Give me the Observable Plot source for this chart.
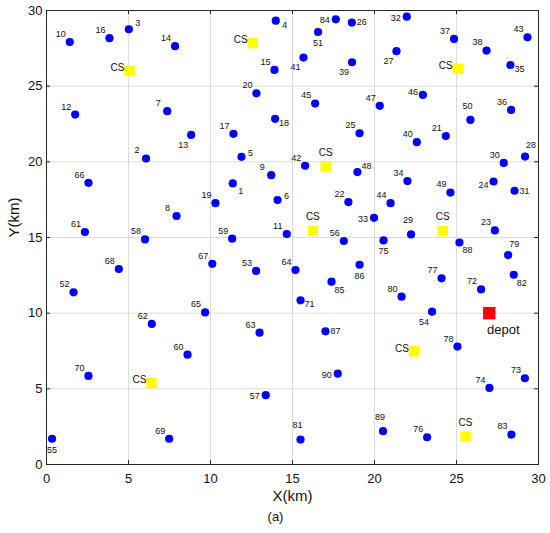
<!DOCTYPE html>
<html>
<head>
<meta charset="utf-8">
<script src="https://cdn.jsdelivr.net/npm/d3@7"></script>
<script src="https://cdn.jsdelivr.net/npm/@observablehq/plot@0.6"></script>
<style>
  html, body { margin: 0; padding: 0; background: #fff; }
  #chart svg { display: block; }
</style>
</head>
<body>
<div id="chart"></div>
<script>
// Customer points, ids 1..90 (km)
const custX = [11.36, 6.07, 5.02, 13.98, 11.89, 14.09, 7.36, 7.93, 13.70, 1.42,
  14.65, 1.75, 8.82, 7.84, 13.90, 3.84, 11.40, 13.94, 10.30, 12.80,
  24.35, 18.41, 27.34, 27.26, 19.09, 18.62, 21.34, 29.18, 22.23, 27.88,
  28.54, 21.97, 19.97, 22.01, 28.29, 28.33, 24.85, 26.83, 18.63, 22.58,
  15.67, 15.77, 29.33, 20.98, 16.38, 22.95, 20.32, 18.96, 24.63, 25.85,
  16.56, 1.65, 12.78, 23.51, 0.34, 18.13, 13.37, 6.01, 11.32, 8.60,
  2.34, 6.42, 12.99, 15.18, 9.67, 2.56, 10.11, 4.41, 7.48, 2.56,
  15.49, 26.50, 29.17, 27.01, 20.55, 23.21, 24.09, 25.06, 28.15, 21.65,
  15.49, 28.49, 28.35, 17.64, 17.38, 19.09, 17.01, 25.18, 20.52, 17.76];
const custY = [18.57, 20.22, 28.76, 29.33, 20.33, 17.47, 23.35, 16.42, 19.12, 27.92,
  15.23, 23.12, 21.78, 27.64, 26.07, 28.17, 21.85, 22.84, 17.27, 24.53,
  21.70, 17.34, 15.47, 18.70, 21.89, 29.20, 27.31, 20.35, 15.20, 19.93,
  18.09, 29.59, 16.30, 18.73, 26.40, 23.43, 28.12, 27.35, 26.58, 21.30,
  26.89, 19.74, 28.23, 17.27, 23.85, 24.42, 23.70, 19.32, 17.97, 22.77,
  28.58, 11.38, 12.79, 10.10, 1.70, 14.77, 4.58, 14.87, 14.92, 7.26,
  15.36, 9.29, 8.71, 12.85, 10.05, 18.61, 13.26, 12.92, 1.70, 5.85,
  10.85, 11.57, 5.70, 5.06, 14.81, 1.80, 12.30, 7.79, 13.84, 11.09,
  1.65, 12.54, 1.98, 29.42, 12.08, 13.20, 8.80, 14.67, 2.20, 6.00];
// label placement around each customer point
const custLabelPos = ["lr","ul","ur","rd","ru","ru","ul","ul","ul","ul",
  "ul","ul","ll","ul","ul","ul","ul","rd","ul","ul",
  "ul","ul","ul","ld","ul","r","ll","ar","a","ul",
  "r","l","l","ul","rd","ul","ul","ul","ll","ul",
  "ll","ul","ul","ul","ul","lu","ul","ur","ul","a",
  "b","ul","ul","ll","b","ul","l","ul","ul","ul",
  "ul","ul","ul","ul","ul","ul","ul","ul","ul","ul",
  "rd","ul","ul","ul","b","ul","ul","ul","ar","ul",
  "a","lr","ul","l","lr","b","r","lr","a","l"];

// Charging stations
const csX = [5.06, 12.58, 25.08, 17.03, 16.24, 24.16, 6.40, 22.41, 25.55];
const csY = [26.00, 27.85, 26.16, 19.69, 15.45, 15.42, 5.39, 7.48, 1.85];
const csLabelPos = ["cl","cl","cl","ca","ca","ca","cl","cl","ca"];

// Depot
const depotX = [27.0];
const depotY = [10.0];

const xTicks = [0, 5, 10, 15, 20, 25, 30];
const yTicks = [0, 5, 10, 15, 20, 25, 30];

const customers = custX.map((x, i) => ({id: String(i + 1), x, y: custY[i], pos: custLabelPos[i]}));
const stations = csX.map((x, i) => ({x, y: csY[i], pos: csLabelPos[i]}));
const depots = depotX.map((x, i) => ({x, y: depotY[i]}));

const offsets = {
  ul: [-9, -8], ur: [9, -6], l: [-11, 1], r: [10, 0], rd: [9, 4], ru: [9, -4],
  ll: [-8, 10], lr: [8, 8], ld: [-10, 4], lu: [-10, -3], b: [0, 11], a: [-3, -14], ar: [6, -11]
};
const csOffsets = {cl: [-12, -3], ca: [0, -14]};

const W = 550, H = 533, mL = 46, mR = 12, mT = 10, mB = 69;
const fw = W - mL - mR, fh = H - mT - mB;

const labelMarks = Object.entries(offsets).map(([code, [dx, dy]]) =>
  Plot.text(customers.filter(d => d.pos === code), {
    x: "x", y: "y", text: "id", dx, dy, fontSize: 9, fill: "#111"
  }));
const csLabelMarks = Object.entries(csOffsets).map(([code, [dx, dy]]) =>
  Plot.text(stations.filter(d => d.pos === code), {
    x: "x", y: "y", text: () => "CS", dx, dy, fontSize: 10, fill: "#111"
  }));

const chart = Plot.plot({
  width: W, height: H,
  marginLeft: mL, marginRight: mR, marginTop: mT, marginBottom: mB,
  x: {domain: [0, 30]},
  y: {domain: [0, 30]},
  style: {fontFamily: "'Liberation Sans', Arial, sans-serif", background: "#fff", color: "#111"},
  marks: [
    Plot.gridX(xTicks, {stroke: "#dcdcdc", strokeOpacity: 1}),
    Plot.gridY(yTicks, {stroke: "#dcdcdc", strokeOpacity: 1}),
    Plot.frame({stroke: "#262626"}),
    Plot.tickX(xTicks, {x: d => d, insetTop: fh - 4, stroke: "#262626"}),
    Plot.tickX(xTicks, {x: d => d, insetBottom: fh - 4, stroke: "#262626"}),
    Plot.tickY(yTicks, {y: d => d, insetRight: fw - 4, stroke: "#262626"}),
    Plot.tickY(yTicks, {y: d => d, insetLeft: fw - 4, stroke: "#262626"}),
    Plot.axisX(xTicks, {tickSize: 0, tickPadding: 9, fontSize: 13, label: null}),
    Plot.axisY(yTicks, {tickSize: 0, tickPadding: 4, fontSize: 13, label: null}),
    Plot.text(["X(km)"], {frameAnchor: "bottom", text: d => d, dy: 36, fontSize: 15}),
    Plot.text(["Y(km)"], {frameAnchor: "left", text: d => d, dx: -32, rotate: -90, fontSize: 15}),
    Plot.text(["(a)"], {frameAnchor: "bottom", text: d => d, dx: -17, dy: 56, fontSize: 13}),
    Plot.dot(customers, {x: "x", y: "y", r: 4.1, fill: "#0000ff", stroke: "none"}),
    Plot.dot(stations, {x: "x", y: "y", r: 5.9, symbol: "square", fill: "#ffff00", stroke: "none"}),
    Plot.dot(depots, {x: "x", y: "y", r: 7, symbol: "square", fill: "#ff0000", stroke: "none"}),
    Plot.text(depots, {x: "x", y: "y", text: () => "depot", dx: 14, dy: 17, fontSize: 13, fill: "#111"}),
    ...labelMarks,
    ...csLabelMarks
  ]
});
document.getElementById("chart").appendChild(chart);
</script>
</body>
</html>
